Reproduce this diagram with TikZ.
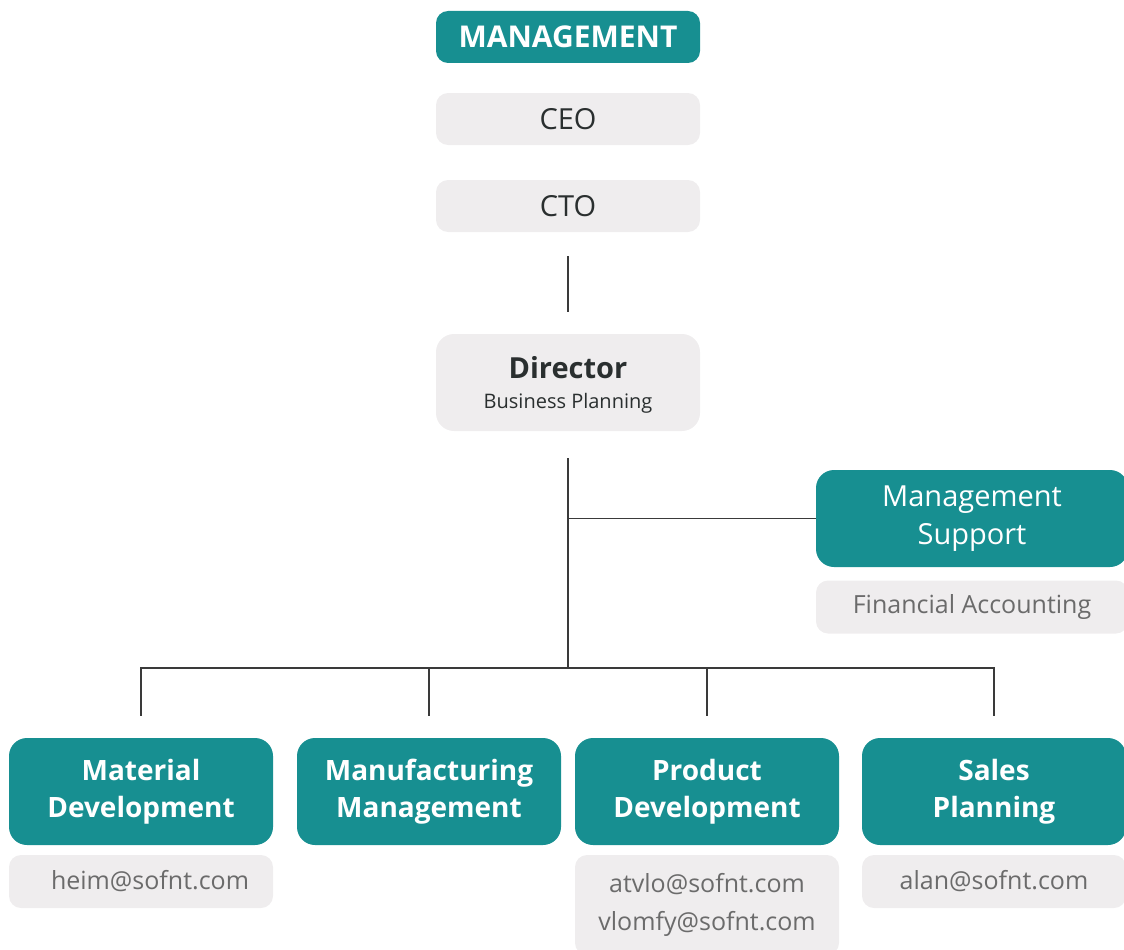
\documentclass[tikz,border=0pt]{standalone}
\usepackage{fontspec}
\setmainfont{Open Sans}
\usetikzlibrary{positioning}
\definecolor{orgTeal}{HTML}{178F91}
\definecolor{boxGray}{HTML}{EFEDEE}
\definecolor{textDark}{HTML}{2A2F2F}
\definecolor{mailGray}{HTML}{6B6B6B}
\definecolor{lineGray}{HTML}{3A3A3A}

\begin{document}
\begin{tikzpicture}[x=1pt,y=-1pt,
    head/.style={%
      fill=orgTeal, text=white, rounded corners=12pt,
      minimum width=264pt, minimum height=52pt, inner sep=0pt,
      font=\bfseries\fontsize{30}{34}\selectfont,
    },
    role/.style={%
      fill=boxGray, text=textDark, rounded corners=12pt,
      minimum width=264pt, minimum height=52pt, inner sep=0pt,
      font=\fontsize{29}{34}\selectfont,
    },
    unit/.style={%
      fill=orgTeal, text=white, rounded corners=18pt,
      minimum width=264pt, minimum height=107pt, inner sep=0pt,
      align=center, font=\bfseries\fontsize{28}{37}\selectfont,
    },
    mail/.style={%
      fill=boxGray, text=mailGray, rounded corners=12pt,
      minimum width=264pt, minimum height=53pt, inner sep=0pt,
      align=center, font=\fontsize{25}{38}\selectfont,
    },
    link/.style={draw=lineGray, line width=1.2pt},
  ]
    \useasboundingbox (0,0) rectangle (1124,950);

    % top of the chart
    \node [head] (mgmt) at (568,37) {MANAGEMENT};
    \node [role] (ceo) at (568,119) {CEO};
    \node [role] (cto) at (568,206) {CTO};
    \node [role, minimum height=97pt, align=center, rounded corners=18pt, text depth=0pt] (director) at (568,382.5)
      {{\bfseries\fontsize{29}{29}\selectfont Director}\\[-4pt]{\fontsize{20}{24}\selectfont Business Planning}};

    % staff unit on the right
    \node [unit, minimum width=312pt, minimum height=97pt, font=\fontsize{29}{38}\selectfont] (support) at (972,518.5) {Management\\Support};
    \node [mail, minimum width=312pt] (finance) at (972,607) {Financial Accounting};

    % departments
    \node [unit] (matdev) at (141,791.5) {Material\\Development};
    \node [unit] (manuf) at (429,791.5) {Manufacturing\\Management};
    \node [unit] (proddev) at (707,791.5) {Product\\Development};
    \node [unit] (sales) at (994,791.5) {Sales\\Planning};

    \node [mail] (matmail) at (141,881.5) {\hspace{18pt}heim@sofnt.com};
    \node [mail, minimum height=100pt] (prodmail) at (707,905) {atvlo@sofnt.com\\vlomfy@sofnt.com};
    \node [mail] (salesmail) at (994,881.5) {alan@sofnt.com};

    \coordinate (tap) at (568,518.5);
    \coordinate (bus) at (568,668);

    \draw [link, shorten <=24pt, shorten >=22pt] (cto) -- (director);
    \draw [link, shorten <=27pt] (director) -- (bus);
    \draw [link] (tap) -- (support.west);
    \foreach \dept in {matdev,manuf,proddev,sales}
      \draw [link, shorten >=22pt] (bus) -| (\dept);
\end{tikzpicture}
\end{document}
